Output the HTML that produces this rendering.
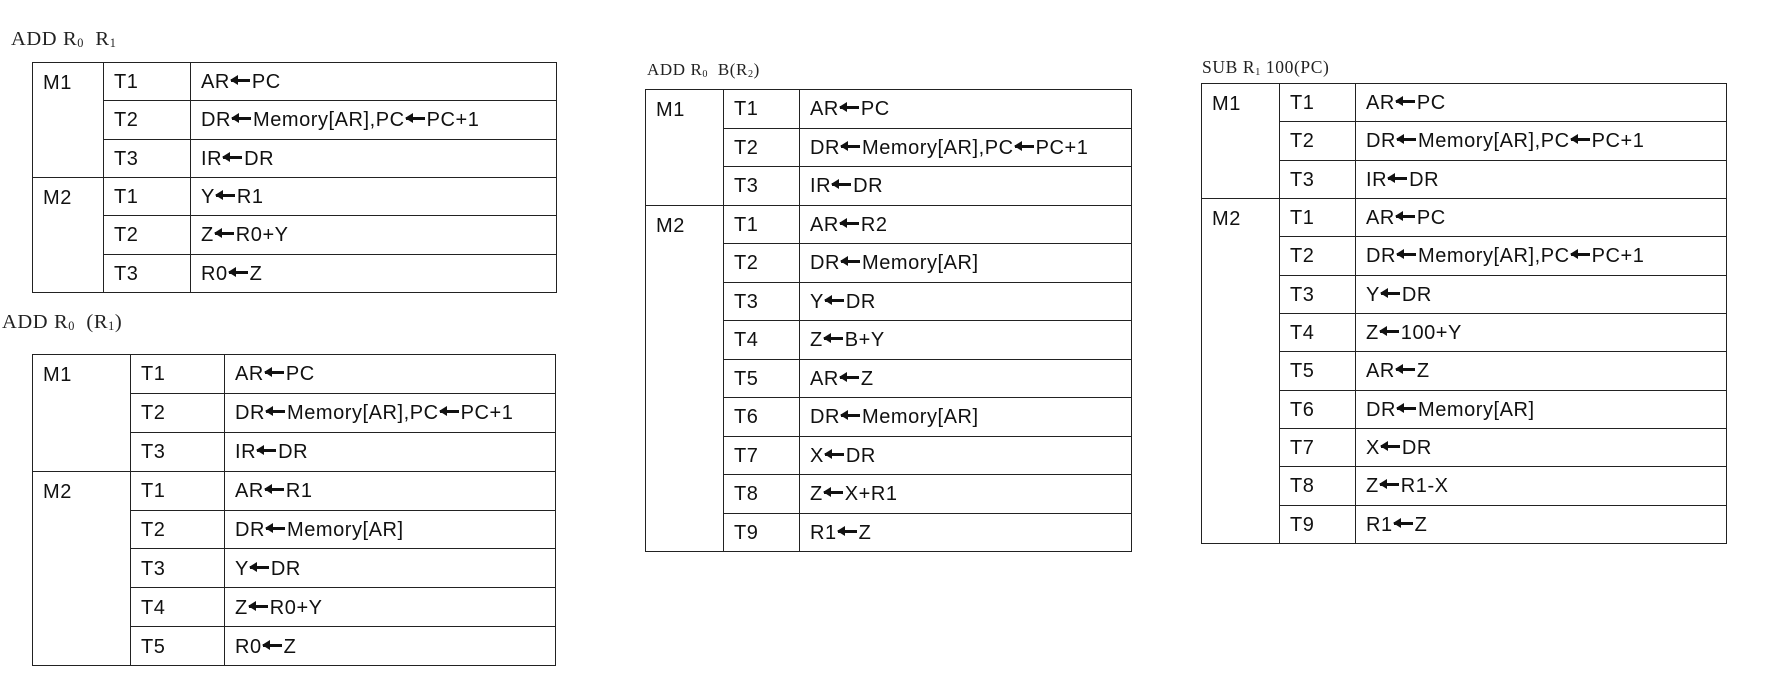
<!DOCTYPE html>
<html><head><meta charset="utf-8"><style>
body{margin:0;width:1775px;height:683px;background:#fff;position:relative;overflow:hidden;font-family:"Liberation Sans",sans-serif;}
.t{position:absolute;font-family:"Liberation Serif",serif;color:#222;white-space:nowrap;letter-spacing:0.6px}
.t sub{font-size:60%;vertical-align:-2px}
table{position:absolute;border-collapse:collapse;table-layout:fixed;font-size:20px;color:#111;letter-spacing:0.55px}
td{border:1.5px solid #222;padding:2px 0 0 10px;vertical-align:middle;white-space:nowrap;box-sizing:border-box}
td.m{vertical-align:top;padding-top:9px}
i{display:inline-block;position:relative;width:19px;height:3px;background:#111;vertical-align:6px;margin:0 2px 0 1px}
i::before{content:"";position:absolute;left:-1px;top:-4px;border-right:8px solid #111;border-top:5.5px solid transparent;border-bottom:5.5px solid transparent}
</style></head><body>

<div class="t" style="left:11px;top:28px;font-size:20.5px">ADD R<sub>0</sub>&nbsp; R<sub>1</sub></div>
<table style="left:32px;top:62px;width:525px;height:231px">
<colgroup><col style="width:71px"><col style="width:87px"><col></colgroup>
<tr><td class="m" rowspan="3">M1</td><td>T1</td><td>AR<i></i>PC</td></tr>
<tr><td>T2</td><td>DR<i></i>Memory[AR],PC<i></i>PC+1</td></tr>
<tr><td>T3</td><td>IR<i></i>DR</td></tr>
<tr><td class="m" rowspan="3">M2</td><td>T1</td><td>Y<i></i>R1</td></tr>
<tr><td>T2</td><td>Z<i></i>R0+Y</td></tr>
<tr><td>T3</td><td>R0<i></i>Z</td></tr>
</table>

<div class="t" style="left:2px;top:311px;font-size:20.5px">ADD R<sub>0</sub>&nbsp; (R<sub>1</sub>)</div>
<table style="left:32px;top:354px;width:524px;height:312px">
<colgroup><col style="width:98px"><col style="width:94px"><col></colgroup>
<tr><td class="m" rowspan="3">M1</td><td>T1</td><td>AR<i></i>PC</td></tr>
<tr><td>T2</td><td>DR<i></i>Memory[AR],PC<i></i>PC+1</td></tr>
<tr><td>T3</td><td>IR<i></i>DR</td></tr>
<tr><td class="m" rowspan="5">M2</td><td>T1</td><td>AR<i></i>R1</td></tr>
<tr><td>T2</td><td>DR<i></i>Memory[AR]</td></tr>
<tr><td>T3</td><td>Y<i></i>DR</td></tr>
<tr><td>T4</td><td>Z<i></i>R0+Y</td></tr>
<tr><td>T5</td><td>R0<i></i>Z</td></tr>
</table>

<div class="t" style="left:647px;top:60px;font-size:17px">ADD R<sub>0</sub>&nbsp; B(R<sub>2</sub>)</div>
<table style="left:645px;top:89px;width:487px;height:463px">
<colgroup><col style="width:78px"><col style="width:76px"><col></colgroup>
<tr><td class="m" rowspan="3">M1</td><td>T1</td><td>AR<i></i>PC</td></tr>
<tr><td>T2</td><td>DR<i></i>Memory[AR],PC<i></i>PC+1</td></tr>
<tr><td>T3</td><td>IR<i></i>DR</td></tr>
<tr><td class="m" rowspan="9">M2</td><td>T1</td><td>AR<i></i>R2</td></tr>
<tr><td>T2</td><td>DR<i></i>Memory[AR]</td></tr>
<tr><td>T3</td><td>Y<i></i>DR</td></tr>
<tr><td>T4</td><td>Z<i></i>B+Y</td></tr>
<tr><td>T5</td><td>AR<i></i>Z</td></tr>
<tr><td>T6</td><td>DR<i></i>Memory[AR]</td></tr>
<tr><td>T7</td><td>X<i></i>DR</td></tr>
<tr><td>T8</td><td>Z<i></i>X+R1</td></tr>
<tr><td>T9</td><td>R1<i></i>Z</td></tr>
</table>

<div class="t" style="left:1202px;top:57px;font-size:17.5px">SUB R<sub>1</sub>&nbsp;100(PC)</div>
<table style="left:1201px;top:83px;width:526px;height:461px">
<colgroup><col style="width:78px"><col style="width:76px"><col></colgroup>
<tr><td class="m" rowspan="3">M1</td><td>T1</td><td>AR<i></i>PC</td></tr>
<tr><td>T2</td><td>DR<i></i>Memory[AR],PC<i></i>PC+1</td></tr>
<tr><td>T3</td><td>IR<i></i>DR</td></tr>
<tr><td class="m" rowspan="9">M2</td><td>T1</td><td>AR<i></i>PC</td></tr>
<tr><td>T2</td><td>DR<i></i>Memory[AR],PC<i></i>PC+1</td></tr>
<tr><td>T3</td><td>Y<i></i>DR</td></tr>
<tr><td>T4</td><td>Z<i></i>100+Y</td></tr>
<tr><td>T5</td><td>AR<i></i>Z</td></tr>
<tr><td>T6</td><td>DR<i></i>Memory[AR]</td></tr>
<tr><td>T7</td><td>X<i></i>DR</td></tr>
<tr><td>T8</td><td>Z<i></i>R1-X</td></tr>
<tr><td>T9</td><td>R1<i></i>Z</td></tr>
</table>

</body></html>
